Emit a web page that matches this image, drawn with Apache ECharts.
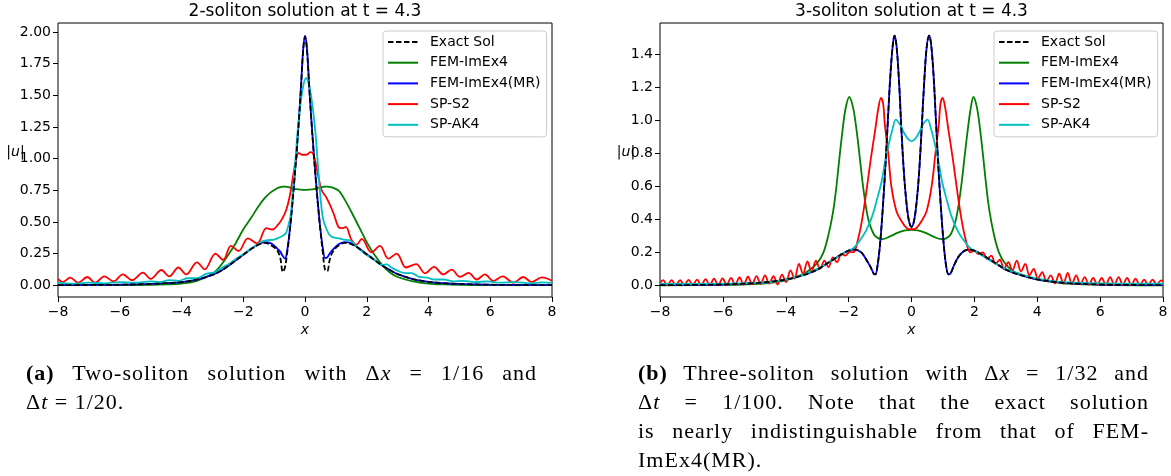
<!DOCTYPE html>
<html lang="en">
<head>
<meta charset="UTF-8">
<title>Soliton solutions at t = 4.3</title>
<script src="https://cdn.jsdelivr.net/npm/echarts@6.0.0/dist/echarts.min.js"></script>
<style>
  body { margin: 0; background: #fff; }
  #wrap { position: relative; width: 1171px; height: 476px; }
  #main { position: absolute; left: 0; top: 0; width: 1171px; height: 476px; }
  .cap { position: absolute; width: 511px; font-family: "Liberation Serif", serif; font-size: 22px; letter-spacing: 1px; line-height: 29px; color: #000; }
  .cap .j { text-align: justify; text-align-last: justify; }
</style>
</head>
<body>
<div id="wrap">
  <div id="main"></div>
  <div class="cap" style="left:26px; top:358px;">
    <div class="j"><b>(a)</b> Two-soliton solution with &Delta;<i>x</i> = 1/16 and</div>
    <div>&Delta;<i>t</i> = 1/20.</div>
  </div>
  <div class="cap" style="left:638px; top:358px;">
    <div class="j"><b>(b)</b> Three-soliton solution with &Delta;<i>x</i> = 1/32 and</div>
    <div class="j">&Delta;<i>t</i> = 1/100. Note that the exact solution</div>
    <div class="j">is nearly indistinguishable from that of FEM-</div>
    <div>ImEx4(MR).</div>
  </div>
</div>
<script type="text/javascript">
// legend names, in the order of the legend box
const names = ['Exact Sol', 'FEM-ImEx4', 'FEM-ImEx4(MR)', 'SP-S2', 'SP-AK4'];
const yTicksA = [0, 0.25, 0.5, 0.75, 1, 1.25, 1.5, 1.75, 2];
const yTicksB = [0, 0.2, 0.4, 0.6, 0.8, 1, 1.2, 1.4];

// ---- (a) 2-soliton ----
const xA = [-8,-7,-6,-5,-4.5,-4,-3.5,-3,-2.75,-2.5,-2.25,-2,-1.75,-1.5,-1.3,-1.1,
  -0.9,-0.8,-0.72,-0.65,-0.58,-0.5,-0.42,-0.35,-0.28,-0.2,-0.13,-0.06,0,0.06,0.13,0.2,
  0.28,0.35,0.42,0.5,0.58,0.65,0.72,0.8,0.9,1.1,1.3,1.5,1.75,2,2.25,2.5,
  2.75,3,3.5,4,4.5,5,6,7,8];
const exactA = [.001,.002,.004,.01,.016,.025,.044,.082,.11,.15,.195,.24,.285,.32,.335,.315,
  .275,.215,.105,.14,.25,.41,.61,.81,1.02,1.29,1.56,1.85,1.96,1.87,1.59,1.32,
  1.05,.83,.63,.43,.25,.12,.11,.2,.265,.315,.335,.325,.29,.245,.2,.155,
  .12,.088,.048,.027,.016,.01,.004,.002,.001];
const mrA = [.001,.002,.004,.01,.016,.025,.044,.082,.11,.15,.195,.24,.285,.325,.34,.33,
  .29,.265,.23,.21,.27,.42,.62,.82,1.03,1.3,1.57,1.86,1.97,1.88,1.6,1.33,
  1.06,.84,.64,.44,.29,.215,.22,.25,.28,.325,.34,.33,.29,.245,.2,.155,
  .12,.088,.048,.027,.016,.01,.004,.002,.001];
const femA = [0,0,.001,.003,.006,.013,.035,.09,.15,.235,.33,.44,.53,.625,.69,.735,
  .765,.775,.778,.778,.776,.772,.767,.762,.758,.756,.754,.753,.753,.753,.754,.756,
  .759,.763,.768,.773,.777,.779,.779,.776,.77,.745,.67,.58,.46,.34,.24,.16,
  .1,.065,.03,.013,.006,.003,.001,0,0];
const ak4AX = [-8,-7.5,-7,-6.5,-6,-5.5,-5,-4.7,-4.4,-4.1,-3.8,-3.5,-3.2,-2.95,-2.7,-2.45,-2.2,-2,-1.8,-1.6,
  -1.4,-1.2,-1,-0.85,-0.72,-0.62,-0.54,-0.46,-0.38,-0.3,-0.22,-0.14,-0.06,0.03,0.1,0.18,0.26,0.34,0.42,0.5,
  0.58,0.7,0.82,0.95,1.1,1.25,1.45,1.65,1.85,2.05,2.3,2.5,2.65,2.8,3,3.25,3.45,3.7,3.95,4.2,
  4.5,4.8,5.1,5.5,5.9,6.3,6.8,7.3,7.7,8];
const ak4AY = [.02,.012,.02,.015,.025,.02,.03,.025,.04,.035,.055,.055,.09,.1,.135,.17,.215,.245,.28,.31,
  .345,.355,.36,.375,.39,.41,.47,.56,.78,1.02,1.27,1.44,1.57,1.635,1.61,1.52,1.38,1.2,.94,.7,
  .53,.44,.39,.375,.37,.36,.355,.31,.265,.23,.19,.16,.165,.14,.115,.095,.095,.065,.06,.045,
  .045,.03,.035,.025,.03,.02,.025,.015,.022,.018];
const s2AX = [-8,-7.85,-7.6,-7.35,-7.05,-6.8,-6.5,-6.2,-5.9,-5.6,-5.25,-5,-4.65,-4.4,-4.1,-3.85,-3.5,-3.25,-2.9,-2.65,
  -2.4,-2.15,-1.85,-1.55,-1.25,-1.05,-0.9,-0.75,-0.6,-0.48,-0.38,-0.3,-0.2,-0.1,0.05,0.18,0.26,0.33,0.43,0.54,
  0.7,0.92,1.08,1.2,1.32,1.5,1.67,1.84,2.15,2.43,2.7,2.97,3.27,3.6,3.89,4.18,4.48,4.75,5.02,5.3,
  5.56,5.83,6.1,6.4,6.75,7.07,7.34,7.67,8];
const s2AY = [.05,.025,.06,.02,.065,.02,.07,.03,.085,.04,.1,.05,.12,.07,.14,.085,.18,.125,.25,.2,
  .31,.27,.37,.33,.45,.44,.47,.52,.6,.72,.87,.98,1.045,1.03,1.03,1.05,1.04,.98,.86,.75,
  .69,.57,.46,.45,.46,.36,.32,.366,.26,.31,.21,.25,.14,.166,.094,.145,.085,.123,.066,.097,
  .045,.085,.033,.07,.02,.065,.025,.062,.035];

// ---- (b) 3-soliton ----
const xB = [-8,-7,-6,-5,-4.5,-4,-3.5,-3,-2.75,-2.5,-2.25,-2,-1.8,-1.6,-1.45,-1.3,-1.2,-1.15,-1.08,-1,
  -0.92,-0.84,-0.76,-0.68,-0.6,-0.54,-0.48,-0.4,-0.32,-0.24,-0.16,-0.08,0,0.08,0.16,0.24,0.32,0.4,0.48,0.56,
  0.62,0.7,0.78,0.86,0.94,1.02,1.1,1.18,1.25,1.35,1.5,1.65,1.8,2,2.25,2.5,2.75,3,3.5,4,
  4.5,5,6,7,8];
const mrB = [.001,.002,.005,.013,.021,.035,.058,.095,.125,.155,.185,.21,.217,.2,.16,.11,.07,.066,.12,.25,
  .45,.69,.97,1.25,1.45,1.515,1.46,1.25,.94,.68,.5,.39,.355,.39,.5,.68,.94,1.22,1.44,1.515,
  1.47,1.28,.99,.7,.46,.26,.12,.066,.075,.12,.175,.205,.217,.21,.185,.155,.125,.095,.06,.036,
  .022,.013,.005,.002,.001];
const exactB = mrB.slice(); // the exact curve lies on top of FEM-ImEx4(MR)
const femBX = [-8,-6,-5,-4.5,-4,-3.6,-3.3,-3,-2.8,-2.65,-2.5,-2.4,-2.3,-2.2,-2.1,-1.98,-1.86,-1.76,-1.66,-1.56,
  -1.46,-1.36,-1.2,-1.05,-0.92,-0.7,-0.45,-0.2,0,0.2,0.45,0.7,0.95,1.1,1.25,1.4,1.5,1.6,1.7,1.8,
  1.88,1.97,2.08,2.18,2.28,2.38,2.48,2.62,2.78,2.95,3.2,3.5,4,4.5,5,6,8];
const femBY = [0,.002,.008,.015,.03,.055,.085,.135,.2,.3,.44,.58,.76,.93,1.07,1.143,1.08,.96,.8,.63,
  .49,.39,.31,.285,.28,.295,.318,.333,.337,.333,.318,.295,.28,.285,.31,.39,.49,.63,.8,.96,
  1.07,1.143,1.08,.95,.78,.6,.45,.31,.2,.14,.09,.065,.035,.02,.01,.003,0];
const s2BX = [-8,-7.9,-7.77,-7.63,-7.5,-7.36,-7.23,-7.09,-6.96,-6.82,
  -6.69,-6.55,-6.42,-6.28,-6.15,-6.01,-5.88,-5.74,-5.61,-5.47,
  -5.34,-5.2,-5.07,-4.93,-4.8,-4.66,-4.53,-4.39,-4.26,-4.12,
  -3.99,-3.85,-3.72,-3.58,-3.45,-3.31,-3.18,-3.04,-2.91,-2.77,
  -2.64,-2.5,-2.37,-2.23,-2.1,-1.96,-1.85,-1.7,-1.57,-1.45,
  -1.3,-1.15,-1.05,-0.97,-0.9,-0.85,-0.74,-0.64,-0.48,-0.32,
  -0.16,-0.05,0,0.05,0.16,0.32,0.48,0.64,0.76,0.87,
  0.92,0.99,1.07,1.17,1.32,1.47,1.59,1.72,1.87,2,
  2.13,2.27,2.4,2.54,2.67,2.81,2.94,3.08,3.21,3.35,
  3.48,3.62,3.75,3.89,4.02,4.16,4.29,4.43,4.56,4.7,
  4.83,4.97,5.1,5.24,5.37,5.51,5.64,5.78,5.91,6.05,
  6.18,6.32,6.45,6.59,6.72,6.86,6.99,7.13,7.26,7.4,
  7.53,7.67,7.8,7.94,8];
const s2BY = [.015,.031,.001,.031,.002,.032,.002,.033,.003,.034,
  0,.038,.002,.04,0,.042,.003,.045,.004,.048,
  .005,.052,.006,.056,.008,.06,.01,.055,.005,.065,
  .02,.09,.04,.13,.07,.145,.08,.15,.1,.15,
  .11,.17,.14,.19,.18,.205,.2,.28,.4,.55,
  .76,.95,1.08,1.137,1.1,.98,.8,.6,.45,.39,
  .348,.34,.342,.34,.348,.39,.45,.6,.8,.98,
  1.1,1.137,1.08,.95,.76,.55,.4,.28,.2,.21,
  .19,.2,.16,.18,.13,.155,.1,.14,.09,.15,
  .085,.13,.06,.1,.04,.08,.025,.06,.012,.07,
  .01,.075,.008,.06,.006,.05,.004,.045,.004,.045,
  .003,.05,.003,.05,.002,.045,.002,.04,.002,.035,
  .002,.035,.004,.03,.025];
const ak4BX = [-8,-7,-6,-5,-4.5,-4,-3.5,-3,-2.5,-2.2,-2,-1.85,-1.65,-1.45,-1.25,-1.1,-0.95,-0.85,-0.72,-0.6,
  -0.5,-0.38,-0.25,-0.12,0,0.12,0.25,0.38,0.51,0.62,0.74,0.87,0.97,1.12,1.27,1.47,1.67,1.87,2.05,2.5,
  3,3.5,4,4.5,5,6,7,8];
const ak4BY = [.01,.008,.01,.015,.02,.035,.06,.1,.155,.19,.21,.225,.27,.33,.42,.52,.63,.74,.86,.95,
  1.005,.98,.93,.89,.874,.89,.93,.98,1.005,.95,.86,.74,.63,.52,.42,.33,.27,.225,.205,.15,
  .1,.065,.04,.025,.018,.012,.01,.01];

const font = 'DejaVu Sans';
const colors = { exact: '#000000', fem: '#008000', mr: '#0000ff', s2: '#ff0000', ak4: '#00bfbf' };

function pairs(xs, ys) {
  return xs.map((x, i) => [x, ys[i]]);
}
function minus(v) {
  return v < 0 ? '\u2212' + Math.abs(v) : String(v);
}

function line(name, color, idx, data, dashed) {
  return {
    name: name, type: 'line', xAxisIndex: idx, yAxisIndex: idx,
    data: data, symbol: 'none', smooth: 0.35,
    lineStyle: { color: color, width: 1.8, type: dashed ? [5.5, 2.5] : 'solid' },
    itemStyle: { color: color },
    z: dashed ? 5 : 2
  };
}

function xAxis(idx) {
  return {
    type: 'value', gridIndex: idx, min: -8, max: 8, interval: 2,
    axisLine: { show: false, onZero: false },
    axisTick: { show: true, length: 5, lineStyle: { color: '#000' } },
    axisLabel: { fontSize: 14, fontFamily: font, color: '#000', margin: 8, formatter: minus },
    splitLine: { show: false }
  };
}

function yAxis(idx, min, max, ticks, digits) {
  return {
    type: 'value', gridIndex: idx, min: min, max: max,
    axisLine: { show: false, onZero: false },
    axisTick: { show: true, length: 5, customValues: ticks, lineStyle: { color: '#000' } },
    axisLabel: { fontSize: 14, fontFamily: font, color: '#000', margin: 7,
      customValues: ticks, formatter: v => v.toFixed(digits) },
    splitLine: { show: false }
  };
}

function legend(left) {
  return {
    data: names, orient: 'vertical', left: left, top: 31,
    itemWidth: 30, itemHeight: 14, itemGap: 6.7,
    padding: [4, 6, 5, 4],
    backgroundColor: 'rgba(255,255,255,0.8)', borderColor: '#cccccc', borderWidth: 1, borderRadius: 3,
    selectedMode: false,
    itemStyle: { opacity: 0 },
    textStyle: { fontSize: 14, fontFamily: font, color: '#000', lineHeight: 14, padding: [0, 0, 0, 7] }
  };
}

function label(x, y, text, size, extra) {
  return {
    type: 'text', x: x, y: y, silent: true,
    style: Object.assign({ text: text, fontSize: size, fontFamily: font, fill: '#000',
      align: 'center', verticalAlign: 'middle' }, extra || {})
  };
}

const uLabel = { rich: { i: { fontStyle: 'italic', fontSize: 14, fontFamily: font } } };

let myChart = echarts.init(document.getElementById('main'));
let options = {
  animation: false,
  grid: [
    { left: 58, top: 23, width: 494, height: 274, show: true, borderColor: '#000', borderWidth: 1 },
    { left: 660, top: 23, width: 503, height: 274, show: true, borderColor: '#000', borderWidth: 1 }
  ],
  xAxis: [xAxis(0), xAxis(1)],
  yAxis: [
    yAxis(0, -0.093, 2.07, yTicksA, 2),
    yAxis(1, -0.071, 1.592, yTicksB, 1)
  ],
  legend: [legend(383), legend(994)],
  graphic: [
    label(305, 12, '2-soliton solution at t = 4.3', 17),
    label(911.5, 12, '3-soliton solution at t = 4.3', 17),
    label(305, 330, 'x', 14, { fontStyle: 'italic' }),
    label(911.5, 330, 'x', 14, { fontStyle: 'italic' }),
    label(15.5, 152, '|{i|u}|', 14, uLabel),
    label(626, 152, '|{i|u}|', 14, uLabel)
  ],
  series: [
    line(names[1], colors.fem, 0, pairs(xA, femA)),
    line(names[2], colors.mr, 0, pairs(xA, mrA)),
    line(names[3], colors.s2, 0, pairs(s2AX, s2AY)),
    line(names[4], colors.ak4, 0, pairs(ak4AX, ak4AY)),
    line(names[0], colors.exact, 0, pairs(xA, exactA), true),
    line(names[1], colors.fem, 1, pairs(femBX, femBY)),
    line(names[2], colors.mr, 1, pairs(xB, mrB)),
    line(names[3], colors.s2, 1, pairs(s2BX, s2BY)),
    line(names[4], colors.ak4, 1, pairs(ak4BX, ak4BY)),
    line(names[0], colors.exact, 1, pairs(xB, exactB), true)
  ]
};
myChart.setOption(options);
</script>
</body>
</html>
